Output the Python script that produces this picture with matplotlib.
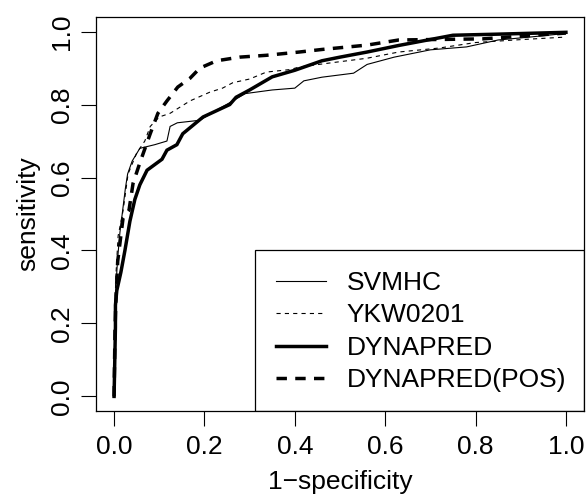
import matplotlib
matplotlib.use("Agg")
import matplotlib.pyplot as plt
from matplotlib.lines import Line2D
from matplotlib.patches import Rectangle

plt.rcParams['font.family'] = ['Liberation Sans', 'DejaVu Sans']
plt.rcParams['lines.scale_dashes'] = False

labels = ["SVMHC", "YKW0201", "DYNAPRED", "DYNAPRED(POS)"]

svmhc_x = [0, 0.002, 0.004, 0.008, 0.013, 0.018, 0.025, 0.03, 0.04, 0.057, 0.09, 0.117, 0.124,
           0.14, 0.19, 0.227, 0.263, 0.29, 0.35, 0.40, 0.42, 0.46, 0.53, 0.56, 0.62, 0.70,
           0.78, 0.85, 0.92, 1.0]
svmhc_y = [0, 0.2, 0.3, 0.38, 0.45, 0.5, 0.57, 0.61, 0.645, 0.68, 0.69, 0.70, 0.74,
           0.75, 0.757, 0.785, 0.81, 0.83, 0.84, 0.845, 0.865, 0.875, 0.886, 0.91, 0.93, 0.95,
           0.958, 0.977, 0.985, 0.995]

ykw_x = [0, 0.002, 0.004, 0.009, 0.02, 0.031, 0.05, 0.068, 0.08, 0.10, 0.124, 0.168, 0.212,
         0.24, 0.263, 0.30, 0.337, 0.39, 0.41, 0.484, 0.56, 0.63, 0.72, 0.80, 0.90, 1.0]
ykw_y = [0, 0.25, 0.33, 0.44, 0.51, 0.61, 0.667, 0.70, 0.74, 0.766, 0.776, 0.81, 0.834,
         0.845, 0.86, 0.87, 0.889, 0.896, 0.903, 0.915, 0.927, 0.944, 0.955, 0.97, 0.978, 0.985]

dyn_x = [0, 0.003, 0.003, 0.006, 0.015, 0.024, 0.035, 0.046, 0.057, 0.073, 0.106, 0.117, 0.139,
         0.152, 0.197, 0.256, 0.27, 0.30, 0.35, 0.40, 0.46, 0.50, 0.56, 0.63, 0.75, 0.85, 1.0]
dyn_y = [0, 0.19, 0.25, 0.29, 0.34, 0.40, 0.48, 0.54, 0.58, 0.62, 0.65, 0.675, 0.69,
         0.72, 0.766, 0.80, 0.82, 0.84, 0.876, 0.894, 0.92, 0.93, 0.944, 0.962, 0.99, 0.993, 0.998]

pos_x = [0, 0.002, 0.004, 0.008, 0.02, 0.033, 0.042, 0.057, 0.08, 0.097, 0.117, 0.141, 0.168,
         0.19, 0.227, 0.278, 0.337, 0.41, 0.46, 0.56, 0.63, 0.815, 1.0]
pos_y = [0, 0.18, 0.26, 0.37, 0.49, 0.51, 0.584, 0.64, 0.72, 0.776, 0.81, 0.848, 0.872,
         0.90, 0.92, 0.93, 0.935, 0.944, 0.951, 0.963, 0.977, 0.98, 0.996]

x_ticks = [0.0, 0.2, 0.4, 0.6, 0.8, 1.0]
y_ticks = [0.0, 0.2, 0.4, 0.6, 0.8, 1.0]

FS = 19

fig = plt.figure(figsize=(5.87, 4.95), dpi=100)
ax = fig.add_axes([96/587, (495-411)/495, (584-96)/587, (411-17)/495])

thin = 0.8
thick = 2.5
ax.plot(svmhc_x, svmhc_y, color='black', lw=thin, solid_joinstyle='miter')
ax.plot(ykw_x, ykw_y, color='black', lw=thin, dashes=(3.0, 3.0))
ax.plot(dyn_x, dyn_y, color='black', lw=thick, solid_joinstyle='miter')
ax.plot(pos_x, pos_y, color='black', lw=thick, dashes=(7.5, 6.0), dash_capstyle='butt')

ax.set_xlim(-0.04, 1.04)
ax.set_ylim(-0.04, 1.04)
ax.set_xticks(x_ticks)
ax.set_yticks(y_ticks)
ax.set_xticklabels([f"{v:.1f}" for v in x_ticks])
ax.set_yticklabels([f"{v:.1f}" for v in y_ticks], rotation=90, va='center')
ax.tick_params(direction='out', length=10.5, width=0.8, labelsize=FS, colors='black')
ax.tick_params(axis='x', pad=7)
ax.tick_params(axis='y', pad=5)
for s in ax.spines.values():
    s.set_linewidth(0.9)
ax.set_xlabel("1\u2212specificity", fontsize=FS, labelpad=8)
ax.set_ylabel("sensitivity", fontsize=FS, labelpad=7)

# legend box
ax.add_patch(Rectangle((0.326, 0.0), 0.674, 0.409, transform=ax.transAxes,
                       fill=False, edgecolor='black', lw=0.9, zorder=5))
handles = [Line2D([], [], color='black', lw=thin),
           Line2D([], [], color='black', lw=thin, dashes=(3.0, 3.0)),
           Line2D([], [], color='black', lw=thick),
           Line2D([], [], color='black', lw=thick, dashes=(7.5, 6.0), dash_capstyle='butt')]
leg = ax.legend(handles, labels, loc='upper left',
                bbox_to_anchor=((278-96)/488 - 0.005, (411-271)/394),
                frameon=False, fontsize=FS, handlelength=1.9, handletextpad=0.8,
                labelspacing=0.32, borderpad=0, borderaxespad=0)

fig.savefig("out.png", dpi=100)
